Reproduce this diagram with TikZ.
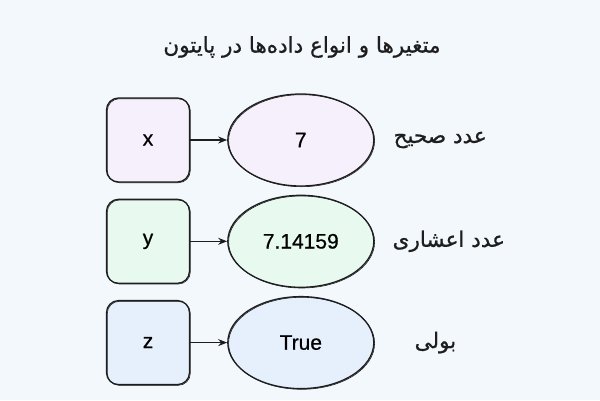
\documentclass[tikz,border=0pt]{standalone}
\usepackage{fontspec}
\setmainfont[FakeBold=0.6]{Liberation Sans}
\newfontfamily\farsifont[Script=Arabic, FakeBold=0.8]{DejaVu Sans}
\TeXXeTstate=1
\usepackage{xcolor}
\usepackage{tikz}
\usetikzlibrary{arrows.meta, positioning, shapes.geometric}

\definecolor{pagebg}{HTML}{F3F8FD}
\definecolor{inkgray}{HTML}{1E1E1E}
\definecolor{lilacfill}{HTML}{F5F0FB}
\definecolor{mintfill}{HTML}{E8FAF0}
\definecolor{skyfill}{HTML}{E5F0FC}

\tikzset{
    sketchy/.style = {postaction={draw=inkgray, line width=0.6pt,
        transform canvas={shift={(0.8pt,-0.7pt)}}}},
    varbox/.style = {draw=inkgray, line width=1.3pt, rounded corners=12pt,
        minimum width=83pt, minimum height=84pt, inner sep=0pt,
        font=\fontsize{21}{25}\selectfont, sketchy},
    valblob/.style = {ellipse, draw=inkgray, line width=1.3pt,
        minimum width=146pt, minimum height=92pt, inner sep=0pt,
        font=\fontsize{21}{25}\selectfont, sketchy},
    kindlabel/.style = {inner sep=0pt, text=inkgray,
        font=\farsifont\fontsize{21.5}{26}\selectfont},
    link/.style = {-{Stealth[length=9pt, width=7pt]}, line width=1.1pt, draw=inkgray},
}

\begin{document}
\begin{tikzpicture}[x=1pt, y=-1pt]
    \fill [pagebg] (0,0) rectangle (600,400);
    \useasboundingbox (0,0) rectangle (600,400);

    \node (title) [kindlabel] at (302,47) {\beginR متغیرها و انواع داده‌ها در پایتون\endR};

    \node (x) [varbox, fill=lilacfill] at (148,140) {x};
    \node (y) [varbox, fill=mintfill, below = 16pt of x] {y};
    \node (z) [varbox, fill=skyfill, below = 16pt of y] {z};

    \node (v7) [valblob, fill=lilacfill, right = 37pt of x] {7};
    \node (vpi) [valblob, fill=mintfill, right = 37pt of y] {7.14159};
    \node (vtrue) [valblob, fill=skyfill, right = 37pt of z] {True};

    \node (intlabel) [kindlabel, right = 19pt of v7] {\beginR عدد صحیح\endR};
    \node (floatlabel) [kindlabel, right = 18pt of vpi] {\beginR عدد اعشاری\endR};
    \node (boollabel) [kindlabel, right = 40pt of vtrue] {\beginR بولی\endR};

    \path [link]
        (x) edge (v7)
        (y) edge (vpi)
        (z) edge (vtrue);
\end{tikzpicture}
\end{document}
